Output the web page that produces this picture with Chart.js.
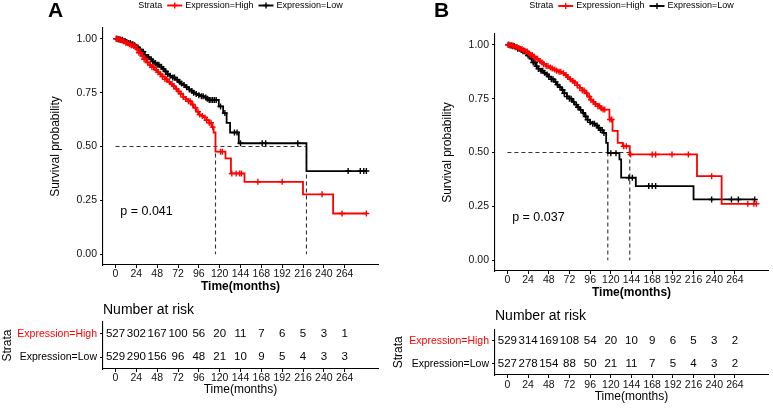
<!DOCTYPE html>
<html><head><meta charset="utf-8">
<script src="https://cdn.jsdelivr.net/npm/chart.js@4.4.0/dist/chart.umd.min.js"></script>
<style>
html,body{margin:0;padding:0;background:#fff;}
body{width:773px;height:408px;position:relative;overflow:hidden;}
canvas{position:absolute;}
</style></head><body>
<canvas id="aKm" width="386" height="296" style="left:0;top:0"></canvas>
<canvas id="aRisk" width="386" height="112" style="left:0;top:296px"></canvas>
<canvas id="bKm" width="383" height="302" style="left:390px;top:0"></canvas>
<canvas id="bRisk" width="383" height="106" style="left:390px;top:302px"></canvas>
<script>
// ---------- data ----------
const riskTimes = [0,24,48,72,96,120,144,168,192,216,240,264];
const yTicks = [0,0.25,0.5,0.75,1];
const groupLabels = ['Expression=High','Expression=Low'];

// Panel A
const aHighTime = [0,3,6,9,12,15,18,21,24,27,30,33,36,39,42,45,48,51,54,57,60,63,66,69,72,75,78,81,84,87,90,93,96,99,102,105,108,111,113,115.2,126.7,133,148.6,216,250.7];
const aHighSurv = [1,0.997,0.993,0.988,0.98,0.975,0.97,0.966,0.952,0.935,0.92,0.905,0.89,0.878,0.868,0.856,0.845,0.835,0.825,0.812,0.8,0.79,0.78,0.768,0.755,0.745,0.73,0.72,0.71,0.695,0.68,0.662,0.648,0.642,0.635,0.622,0.61,0.59,0.565,0.476,0.445,0.375,0.336,0.278,0.189];
const aHighCens = [1,2,4,5,7,9,10,12,14,16,18,19,21,23,25,27,29,31,33,35,37,40,42,44,47,49,52,54,57,59,62,65,67,70,73,75,78,81,84,86,89,92,95,97,100,103,105,108,110,112,121,123,134,139,143,145,164,192,238,261,289];
const aLowTime = [0,3,6,9,12,15,18,21,24,27,30,33,36,39,42,45,48,51,54,57,60,63,66,69,72,75,78,81,84,87,90,93,96,99,102,105,108,119,124,128,132,142,220];
const aLowSurv = [1,0.998,0.995,0.99,0.985,0.98,0.975,0.97,0.96,0.95,0.94,0.925,0.915,0.905,0.895,0.888,0.88,0.87,0.86,0.848,0.835,0.828,0.82,0.81,0.8,0.792,0.785,0.775,0.765,0.758,0.75,0.744,0.738,0.733,0.728,0.722,0.716,0.686,0.655,0.61,0.565,0.515,0.386];
const aLowCens = [1,3,4,6,8,10,11,13,15,17,19,20,22,24,26,28,30,32,34,36,38,41,43,46,48,50,53,55,58,60,63,66,68,71,74,76,79,82,85,88,90,93,96,99,101,104,106,108,110,112,114,116,121,126,137,140,144,169,173,210,268,282,286,289];
const aMedians = [115.2,220];
const aRiskHigh = [527,302,167,100,56,20,11,7,6,5,3,1];
const aRiskLow = [529,290,156,96,48,21,10,9,5,4,3,3];
const aPValue = 'p = 0.041';

// Panel B
const bHighTime = [0,3,6,9,12,15,18,21,24,27,30,33,36,39,42,45,48,51,54,57,60,63,66,69,72,75,78,81,84,87,90,93,96,99,102,105,108,111,118.4,122,128,134,142,220,248.6];
const bHighSurv = [1,0.998,0.995,0.99,0.985,0.98,0.975,0.969,0.96,0.952,0.945,0.935,0.925,0.918,0.91,0.902,0.895,0.89,0.885,0.88,0.875,0.868,0.86,0.85,0.84,0.832,0.825,0.812,0.8,0.788,0.775,0.76,0.745,0.735,0.725,0.715,0.705,0.699,0.653,0.6,0.545,0.529,0.491,0.39,0.262];
const bHighCens = [1,2,4,6,7,9,11,13,15,17,19,21,23,25,27,29,31,33,35,38,40,42,45,47,50,52,55,57,60,62,65,68,70,73,76,78,81,84,87,89,92,95,97,100,102,105,107,109,111,113,119,121,135,138,143,168,172,191,210,237,279,286,289];
const bLowTime = [0,3,6,9,12,15,18,21,24,27,30,33,36,39,42,45,48,51,54,57,60,63,66,69,72,75,78,81,84,87,90,93,96,99,102,105,108,111,114.6,116.5,130,132,149,216];
const bLowSurv = [1,0.997,0.993,0.988,0.982,0.976,0.97,0.961,0.95,0.935,0.918,0.9,0.888,0.879,0.87,0.862,0.852,0.84,0.828,0.815,0.803,0.79,0.775,0.76,0.75,0.735,0.722,0.71,0.698,0.684,0.667,0.652,0.64,0.634,0.625,0.615,0.604,0.591,0.545,0.497,0.468,0.383,0.344,0.282];
const bLowCens = [1,3,5,6,8,10,12,14,16,18,20,22,24,26,28,30,32,34,36,39,41,43,46,48,51,53,56,58,61,64,66,69,72,74,77,80,82,85,88,91,93,96,99,101,104,106,108,110,112,120,126,141,145,164,168,172,237,260,268,287];
const bMedians = [116.5,142];
const bRiskHigh = [529,314,169,108,54,20,10,9,6,5,3,2];
const bRiskLow = [527,278,154,88,50,21,11,7,5,4,3,2];
const bPValue = 'p = 0.037';

// ---------- helpers ----------
const FONT = '"Liberation Sans", Arimo, Arial, sans-serif';
Chart.defaults.font.family = FONT;
Chart.defaults.color = '#000';
const RED = '#ff0000', BLACK = '#000000';

function buildCurve(times, surv, cens) {
  const pts = times.map((t, i) => ({x: t, y: surv[i], c: false}));
  cens.forEach(tc => {
    let s = 1;
    for (let i = 0; i < times.length; i++) if (times[i] <= tc) s = surv[i];
    pts.push({x: tc, y: s, c: true});
  });
  pts.sort((a, b) => a.x - b.x || (a.c - b.c));
  return pts;
}

const kmDecor = {
  id: 'kmDecor',
  afterDraw(chart, args, o) {
    const ctx = chart.ctx, ca = chart.chartArea;
    ctx.save();
    ctx.fillStyle = '#000';
    ctx.textBaseline = 'middle';
    // panel letter
    ctx.font = 'bold 21px ' + FONT;
    ctx.textAlign = 'center';
    ctx.fillText(o.letter, o.letterX, o.letterY);
    // legend
    ctx.font = '9px ' + FONT;
    ctx.textAlign = 'left';
    const items = o.groups;
    const symW = 15, g1 = 3, g2 = 5;
    let total = ctx.measureText('Strata').width;
    items.forEach(it => { total += g2 + symW + g1 + ctx.measureText(it.label).width; });
    let x = (ca.left + ca.right) / 2 - total / 2;
    const y = o.legendY;
    ctx.fillText('Strata', x, y);
    x += ctx.measureText('Strata').width + g2;
    items.forEach(it => {
      ctx.strokeStyle = it.color;
      ctx.lineWidth = 1.9;
      ctx.beginPath(); ctx.moveTo(x, y); ctx.lineTo(x + symW, y); ctx.stroke();
      ctx.lineWidth = 1.4;
      const cx = x + symW / 2;
      ctx.beginPath(); ctx.moveTo(cx - 3, y); ctx.lineTo(cx + 3, y); ctx.moveTo(cx, y - 3); ctx.lineTo(cx, y + 3); ctx.stroke();
      x += symW + g1;
      ctx.fillStyle = '#000';
      ctx.fillText(it.label, x, y);
      x += ctx.measureText(it.label).width + g2;
    });
    // p value
    ctx.font = '12.5px ' + FONT;
    ctx.fillText(o.pText, chart.scales.x.getPixelForValue(o.pX), chart.scales.y.getPixelForValue(o.pY));
    ctx.restore();
  }
};

const riskText = {
  id: 'riskText',
  afterDatasetsDraw(chart) {
    const ctx = chart.ctx;
    ctx.save();
    ctx.font = '11.5px ' + FONT;
    ctx.fillStyle = '#000';
    ctx.textAlign = 'center';
    ctx.textBaseline = 'middle';
    chart.data.datasets.forEach((ds, di) => {
      const meta = chart.getDatasetMeta(di);
      meta.data.forEach((el, i) => ctx.fillText(String(ds.data[i].n), el.x, el.y));
    });
    ctx.restore();
  }
};

function xScale(xh, title, bold, tickPad, titlePadBottom) {
  return {
    type: 'linear', min: -14.4, max: 302.4,
    afterBuildTicks: s => { s.ticks = riskTimes.map(v => ({value: v})); },
    afterFit: s => { s.height = xh; },
    ticks: {autoSkip: false, maxRotation: 0, minRotation: 0, padding: tickPad, font: {size: 10.5}, color: '#111'},
    grid: {drawOnChartArea: false, drawTicks: true, tickLength: 3, color: '#000', lineWidth: 1},
    border: {display: true, color: '#000', width: 1.1},
    title: {display: true, text: title, color: '#000', font: {size: 12, weight: bold ? 'bold' : 'normal'}, padding: {top: 0, bottom: titlePadBottom}}
  };
}

function makeKm(id, c) {
  const dash = {borderColor: '#333', borderWidth: 1.1, borderDash: [4, 3], pointRadius: 0, fill: false};
  const datasets = [];
  const mMax = Math.max(...c.medians);
  c.groups.forEach(g => datasets.push({
    label: g.label, data: buildCurve(g.t, g.s, g.c), borderColor: g.color, backgroundColor: g.color,
    stepped: true, borderWidth: 1.8, fill: false, pointStyle: 'cross',
    pointRadius: ctx => (ctx.raw && ctx.raw.c) ? 3 : 0, pointHoverRadius: 0,
    pointBorderColor: g.color, pointBorderWidth: 1.4
  }));
  datasets.push(Object.assign({data: [{x: 0, y: 0.5}, {x: mMax, y: 0.5}]}, dash));
  c.medians.forEach(m => datasets.push(Object.assign({data: [{x: m, y: 0.5}, {x: m, y: 0}]}, dash)));
  new Chart(document.getElementById(id), {
    type: 'line',
    data: {datasets},
    options: {
      responsive: false, animation: false, events: [],
      layout: {padding: c.pad},
      plugins: {legend: {display: false}, tooltip: {enabled: false},
        kmDecor: {letter: c.letter, letterX: c.letterX, letterY: 11, legendY: c.legendY, groups: c.groups, pText: c.pText, pX: 5.5, pY: 0.2}},
      scales: {
        x: xScale(c.xh, 'Time(months)', true, 0, 1.8),
        y: {
          type: 'linear', min: -0.05, max: 1.05,
          afterBuildTicks: s => { s.ticks = yTicks.map(v => ({value: v})); },
          afterFit: s => { s.width = c.yw; },
          ticks: {padding: 3, font: {size: 10.5}, color: '#111', callback: v => Number(v).toFixed(2)},
          grid: {drawOnChartArea: false, drawTicks: true, tickLength: 3, color: '#000', lineWidth: 1},
          border: {display: true, color: '#000', width: 1.1},
          title: {display: true, text: 'Survival probability', color: '#000', font: {size: 12}, padding: {top: c.yTitlePad, bottom: 0}}
        }
      }
    },
    plugins: [kmDecor]
  });
}

function makeRisk(id, c) {
  const datasets = c.rows.map((r, k) => ({
    label: groupLabels[k],
    data: riskTimes.map((t, i) => ({x: t, y: groupLabels[k], n: r[i]})),
    pointRadius: 0, showLine: false
  }));
  new Chart(document.getElementById(id), {
    type: 'scatter',
    data: {datasets},
    options: {
      responsive: false, animation: false, events: [],
      layout: {padding: c.pad},
      plugins: {legend: {display: false}, tooltip: {enabled: false},
        title: {display: true, text: 'Number at risk', align: 'start', fullSize: false, color: '#000', font: {size: 14, weight: 'normal'}, padding: {top: 5.6, bottom: c.titlePadB}}},
      scales: {
        x: xScale(c.xh, 'Time(months)', false, c.tickPad, c.xTitlePadB),
        y: {
          type: 'category', labels: groupLabels, offset: true,
          afterFit: s => { s.width = c.yw; },
          ticks: {padding: 3, font: {size: 10.5}, color: ctx => ctx.index === 0 ? RED : BLACK},
          grid: {offset: false, drawOnChartArea: false, drawTicks: true, tickLength: 3, color: '#000', lineWidth: 1},
          border: {display: true, color: '#000', width: 1.1},
          title: {display: true, text: 'Strata', color: '#000', font: {size: 12}, padding: {top: c.yTitlePad, bottom: 0}}
        }
      }
    },
    plugins: [riskText]
  });
}

// ---------- charts ----------
makeKm('aKm', {
  letter: 'A', letterX: 55.5, legendY: 5.5, pText: aPValue, medians: aMedians,
  pad: {left: 0, top: 28, right: 8, bottom: 0}, yw: 103, xh: 31, yTitlePad: 48.8,
  groups: [
    {label: groupLabels[0], color: RED, t: aHighTime, s: aHighSurv, c: aHighCens},
    {label: groupLabels[1], color: BLACK, t: aLowTime, s: aLowSurv, c: aLowCens}
  ]
});
makeKm('bKm', {
  letter: 'B', letterX: 51.5, legendY: 6, pText: bPValue, medians: bMedians,
  pad: {left: 0, top: 34, right: 5, bottom: 0}, yw: 105, xh: 31, yTitlePad: 50.3,
  groups: [
    {label: groupLabels[0], color: RED, t: bHighTime, s: bHighSurv, c: bHighCens},
    {label: groupLabels[1], color: BLACK, t: bLowTime, s: bLowSurv, c: bLowCens}
  ]
});
makeRisk('aRisk', {rows: [aRiskHigh, aRiskLow], pad: {left: 0, top: 0, right: 8, bottom: 0},
  titlePadB: 3.6, xh: 39, tickPad: 0, xTitlePadB: 10.8, yw: 103, yTitlePad: 0.3});
makeRisk('bRisk', {rows: [bRiskHigh, bRiskLow], pad: {left: 0, top: 0, right: 5, bottom: 0},
  titlePadB: 5.1, xh: 33, tickPad: 1, xTitlePadB: 3.8, yw: 105, yTitlePad: 1.8});
</script>
</body></html>
